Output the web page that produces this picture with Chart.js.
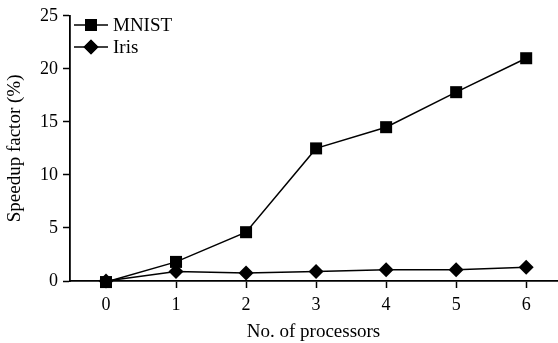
<!DOCTYPE html>
<html><head><meta charset="utf-8">
<script src="https://cdn.jsdelivr.net/npm/chart.js@4"></script>
<style>html,body{margin:0;padding:0;background:#fff}#wrap{width:558px;height:343px}</style>
</head><body><div id="wrap"><canvas id="c" width="558" height="343"></canvas></div>
<script>
const processors = [0, 1, 2, 3, 4, 5, 6];
const mnist = [-0.1, 1.8, 4.6, 12.5, 14.5, 17.8, 21.0];
const iris = [0, 0.9, 0.75, 0.9, 1.05, 1.05, 1.3];
const yTicks = [0, 5, 10, 15, 20, 25];
const xTicks = [0, 1, 2, 3, 4, 5, 6];
const seriesNames = ['MNIST', 'Iris'];
const FONT = "'Liberation Serif', 'Times New Roman', serif";

const legendPlugin = {
  id: 'lg',
  afterDraw(chart) {
    const ctx = chart.ctx;
    const ds = chart.data.datasets;
    ctx.save();
    ds.forEach((d, i) => {
      const y = 25 + i * 22;
      const x0 = 74, x1 = 108, xm = 91;
      ctx.strokeStyle = '#000'; ctx.lineWidth = 1.5;
      ctx.beginPath(); ctx.moveTo(x0, y); ctx.lineTo(x1, y); ctx.stroke();
      ctx.fillStyle = '#000';
      Chart.helpers.drawPoint(ctx, {pointStyle: d.pointStyle, radius: d.pointRadius, borderWidth: 0}, xm, y);
      ctx.fill();
      ctx.font = '19px ' + FONT;
      ctx.textBaseline = 'middle';
      ctx.fillText(d.label, 113, y + 1);
    });
    ctx.restore();
  }
};

new Chart(document.getElementById('c'), {
  type: 'line',
  data: {
    datasets: [
      { label: seriesNames[0], data: processors.map((p, i) => ({x: p, y: mnist[i]})),
        borderColor: '#000', backgroundColor: '#000', borderWidth: 1.5,
        pointStyle: 'rect', pointRadius: 8.5, pointBorderWidth: 0, clip: false },
      { label: seriesNames[1], data: processors.map((p, i) => ({x: p, y: iris[i]})),
        borderColor: '#000', backgroundColor: '#000', borderWidth: 1.5,
        pointStyle: 'rectRot', pointRadius: 7.5, pointBorderWidth: 0, clip: false }
    ]
  },
  options: {
    responsive: false, animation: false, devicePixelRatio: 1,
    layout: { autoPadding: false, padding: { left: 0, right: 1, top: 15, bottom: 0 } },
    plugins: { legend: { display: false }, tooltip: { enabled: false } },
    scales: {
      x: {
        type: 'linear', min: -0.514, max: 6.44,
        afterBuildTicks: s => { s.ticks = xTicks.map(v => ({value: v})); },
        afterFit: s => { s.height = 62; },
        grid: { drawOnChartArea: false, color: '#000', tickLength: 7, tickWidth: 1.5 },
        border: { color: '#000', width: 1.8 },
        ticks: { color: '#000', font: { family: FONT, size: 18 }, padding: 6 },
        title: { display: true, text: 'No. of processors', color: '#000', font: { family: FONT, size: 19 }, padding: { top: 5, bottom: 0 } }
      },
      y: {
        min: 0, max: 25,
        afterBuildTicks: s => { s.ticks = yTicks.map(v => ({value: v})); },
        afterFit: s => { s.width = 70; },
        grid: { drawOnChartArea: false, color: '#000', tickLength: 7, tickWidth: 1.5 },
        border: { color: '#000', width: 1.8 },
        ticks: { color: '#000', font: { family: FONT, size: 18 }, padding: 5 },
        title: { display: true, text: 'Speedup factor (%)', color: '#000', font: { family: FONT, size: 19 }, padding: { top: 4, bottom: 2 } }
      }
    }
  },
  plugins: [legendPlugin]
});
</script></body></html>
